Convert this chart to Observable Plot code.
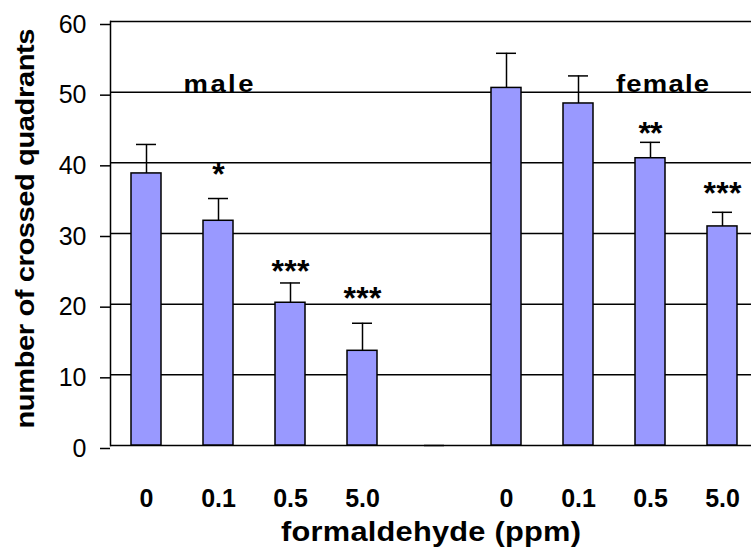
<!DOCTYPE html>
<html>
<head>
<meta charset="utf-8">
<script src="https://cdn.jsdelivr.net/npm/d3@7"></script>
<script src="https://cdn.jsdelivr.net/npm/@observablehq/plot@0.6"></script>
<style>
  html, body { margin: 0; padding: 0; background: #fff; }
  #chart svg { display: block; }
</style>
</head>
<body>
<div id="chart"></div>
<script>
// ---- data ----
const slots = [0, 1, 2, 3, 4, 5, 6, 7, 8];
const doseLabels = ["0", "0.1", "0.5", "5.0", "", "0", "0.1", "0.5", "5.0"];
const sexes = ["male", "male", "male", "male", "", "female", "female", "female", "female"];
const means = [38.5, 31.8, 20.2, 13.4, 0, 50.6, 48.4, 40.65, 31.0];
const errors = [4.1, 3.15, 2.8, 3.9, 0, 4.9, 3.9, 2.25, 2.0];
const stars = ["", "*", "***", "***", "", "", "", "**", "***"];
const starLevels = [null, 39.4, 25.75, 21.9, null, null, null, 45.3, 36.8];
const groupNames = ["male", "female"];
const groupSlots = [1, 7];
const groupLevels = [50, 50];
const yTicks = [0, 10, 20, 30, 40, 50, 60];
const xTitle = "formaldehyde (ppm)";
const yTitle = "number of crossed quadrants";

const rows = slots.map((s, i) => ({
  slot: s, dose: doseLabels[i], sex: sexes[i],
  mean: means[i], top: means[i] + errors[i], err: errors[i]
}));
const starRows = slots.map((s, i) => ({slot: s, label: stars[i], y: starLevels[i]}))
  .filter(d => d.label);
const groupRows = groupNames.map((g, i) => ({label: g, slot: groupSlots[i], y: groupLevels[i]}));

const font = "'Liberation Sans', Arial, sans-serif";

const chart = Plot.plot({
  width: 751,
  height: 552,
  marginTop: 21,
  marginBottom: 107,
  marginLeft: 110,
  marginRight: 0,
  style: {fontFamily: font, background: "#fff", color: "#000"},
  x: {type: "band", domain: slots, range: [109.5, 758], paddingInner: 0.59, paddingOuter: 0.295, axis: null},
  y: {domain: [0, 60], axis: null},
  marks: [
    Plot.gridY(yTicks.filter(t => t > 0), {stroke: "#000", strokeOpacity: 1, strokeWidth: 1.5}),
    Plot.ruleY([0], {stroke: "#000", strokeWidth: 1.5}),
    Plot.frame({anchor: "left", stroke: "#000", strokeWidth: 1.5}),
    Plot.axisY({ticks: yTicks, tickSize: 10, tickPadding: 14, fontSize: 25, fontWeight: "normal",
      strokeWidth: 1.5, label: null, dy: 3}),
    Plot.axisX({tickSize: 0, tickPadding: 44, tickFormat: i => doseLabels[i], fontSize: 25,
      fontWeight: "bold", label: null}),
    // error bars (upper only)
    Plot.ruleX(rows.filter(d => d.err > 0), {x: "slot", y1: "mean", y2: "top", stroke: "#000", strokeWidth: 1.5}),
    Plot.tickY(rows, {x: "slot", y: "top", stroke: "#000", strokeWidth: 1.5, insetLeft: 5, insetRight: 5}),
    // bars
    Plot.barY(rows.filter(d => d.mean > 0), {x: "slot", y: "mean", fill: "#9999FF", stroke: "#000", strokeWidth: 1.5}),
    // significance stars
    Plot.text(starRows, {x: "slot", y: "y", text: "label", fontSize: 32, fontWeight: "bold", dy: 8, fill: "#000"}),
    // group labels
    Plot.text(groupRows.filter(d => d.label === "male"), {x: "slot", y: "y", text: "label", fontSize: 24.5,
      fontWeight: "bold", dy: -8.4, fill: "#000"}),
    Plot.text(groupRows.filter(d => d.label === "female"), {x: "slot", y: "y", text: "label", fontSize: 24.5,
      fontWeight: "bold", dy: -8.4, dx: 12, fill: "#000"}),
    // axis titles
    Plot.text([xTitle], {frameAnchor: "bottom", lineAnchor: "middle", textAnchor: "middle", dy: 86.2,
      fontSize: 27.5, fontWeight: "bold", fill: "#000"}),
    Plot.text([yTitle], {frameAnchor: "left", lineAnchor: "middle", textAnchor: "middle", rotate: -90,
      dx: -85, dy: -5, fontSize: 26, fontWeight: "bold", fill: "#000"})
  ]
});

document.getElementById("chart").appendChild(chart);

// the reference's bold labels are wide: stretch glyphs a little, then fit to the reference widths
const stretch = 1.12;
const targetWidths = {
  "male": 70, "female": 93,
  [xTitle]: 300, [yTitle]: 400
};
const starWidths = {"*": 11, "**": 24, "***": 38};
d3.select(chart).selectAll("text").each(function() {
  const t = this.textContent;
  if (Object.prototype.hasOwnProperty.call(targetWidths, t)) {
    const tr = this.getAttribute("transform");
    if (tr) {
      this.setAttribute("transform", tr + ` scale(${stretch},1)`);
    } else {
      const x = +this.getAttribute("x") || 0, y = +this.getAttribute("y") || 0;
      this.setAttribute("transform", `translate(${x},${y}) scale(${stretch},1) translate(${-x},${-y})`);
    }
    this.setAttribute("textLength", targetWidths[t] / stretch);
    this.setAttribute("lengthAdjust", "spacing");
  } else if (Object.prototype.hasOwnProperty.call(starWidths, t)) {
    this.setAttribute("textLength", starWidths[t]);
    this.setAttribute("lengthAdjust", "spacing");
  }
});
</script>
</body>
</html>
